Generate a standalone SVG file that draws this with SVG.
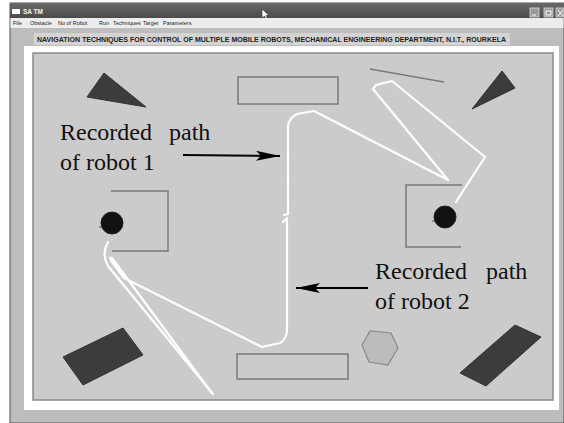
<svg xmlns="http://www.w3.org/2000/svg" width="564" height="423" viewBox="0 0 564 423">
<defs>
<style>
.obs{fill:#3c3c3c;stroke:#333;stroke-width:1}
.box{fill:none;stroke:#7a7a7a;stroke-width:1.5}
.path{fill:none;stroke:#ffffff;stroke-width:2.2;stroke-linejoin:round;stroke-linecap:round}
.robot{fill:#111;stroke:#222;stroke-width:1}
.lbl{font-family:"Liberation Serif","Times New Roman",serif;font-size:24px;fill:#111}
.menu{font-family:"Liberation Sans",Arial,sans-serif;font-size:5.5px;fill:#222}
.arrow{stroke:#000;stroke-width:2;fill:none}
</style>
<marker id="ah" markerWidth="24" markerHeight="10" refX="24" refY="5" orient="auto" markerUnits="userSpaceOnUse">
<path d="M0,0 L24,5 L0,10 L5,5 Z" fill="#000"/>
</marker>
<linearGradient id="tb" x1="0" y1="0" x2="0" y2="1">
<stop offset="0" stop-color="#6a6a6a"/>
<stop offset="1" stop-color="#4a4a4a"/>
</linearGradient>
</defs>
<rect x="0" y="0" width="564" height="423" fill="#ffffff"/>
<g id="window">
<rect x="10" y="3" width="554" height="420" fill="#bdbdbd" stroke="#555" stroke-width="1"/>
<rect x="10" y="3" width="554" height="15" fill="url(#tb)"/>
<rect x="12" y="9" width="8" height="5" fill="#fff"/>
<text x="23" y="14" font-family="Liberation Sans,Arial,sans-serif" font-size="6.5" font-weight="bold" fill="#f4f4f4">SA TM</text>
<rect x="530" y="8" width="9" height="9" fill="#9a9a9a" stroke="#ddd" stroke-width="0.8"/>
<rect x="544" y="8" width="9" height="9" fill="#9a9a9a" stroke="#ddd" stroke-width="0.8"/>
<rect x="556" y="8" width="8" height="9" fill="#9a9a9a" stroke="#ddd" stroke-width="0.8"/>
<path d="M532,15 h4 M546,11 h5 v4 h-5z M558,10 l5,6 M563,10 l-5,6" stroke="#fff" stroke-width="1" fill="none"/>
<polygon points="262,9 262,18 264.5,16 266.5,20 268,19.3 266,15.5 269,15.5" fill="#fff" stroke="#333" stroke-width="0.6"/>
<rect x="10.5" y="18" width="553" height="10" fill="#ececec"/>
<text class="menu" x="13" y="25">File</text>
<text class="menu" x="30" y="25">Obstacle</text>
<text class="menu" x="58" y="25">No of Robot</text>
<text class="menu" x="99" y="25">Run</text>
<text class="menu" x="113" y="25">Techniques</text>
<text class="menu" x="143" y="25">Target</text>
<text class="menu" x="163" y="25">Parameters</text>
<rect x="34" y="33" width="476" height="12" fill="#d4d4d4"/>
<text x="37" y="42" font-family="Liberation Sans,Arial,sans-serif" font-size="7" font-weight="bold" fill="#222" textLength="469" lengthAdjust="spacingAndGlyphs">NAVIGATION TECHNIQUES FOR CONTROL OF MULTIPLE MOBILE ROBOTS, MECHANICAL ENGINEERING DEPARTMENT, N.I.T., ROURKELA</text>
<rect x="24" y="46" width="535" height="364" fill="#ffffff"/>
<rect x="33" y="53" width="520" height="347" fill="#cbcbcb" stroke="#8a8a8a" stroke-width="1.5"/>
</g>
<g id="obstacles">
<polygon class="obs" points="104,73 87,97 146,107"/>
<rect class="box" x="238" y="77" width="100" height="27"/>
<line x1="370" y1="69" x2="444" y2="82" stroke="#7a7a7a" stroke-width="1.5"/>
<polygon class="obs" points="502,71 515,88 472,109"/>
<polyline class="box" points="111,191 168,191 168,251 112,251"/>
<polyline class="box" points="462,185 406,185 406,247 461,247"/>
<polygon class="obs" points="63,357 123,328 143,355 83,385" fill="#444"/>
<rect class="box" x="237" y="354" width="111" height="25"/>
<polygon points="362,345 370,331 391,333 398,348 388,365 369,362" fill="#bcbcbc" stroke="#8a8a8a" stroke-width="1.2"/>
<polygon class="obs" points="515,325 541,337 486,386 460,373"/>
</g>
<g id="paths">
<path class="path" d="M456,202 L485,157 L392,81 L376,85 L373,89 L448,180 L314,111 L297,114 Q289,118 288,126 L288,214 L284,215 M283,222 L287,218 L287,331 Q286,340 280,343 L262,347 L124,278 L112,262 Q108,256 112,258 L211,392"/>
<path class="path" d="M108,242 Q101,254 108,266 L213,394"/>
</g>
<g id="robots">
<circle id="robot1" class="robot" cx="112" cy="223" r="11"/>
<line x1="99" y1="227" x2="102" y2="227" stroke="#555" stroke-width="1"/>
<circle id="robot2" class="robot" cx="445" cy="217" r="11"/>
<line x1="432" y1="221" x2="435" y2="221" stroke="#555" stroke-width="1"/>
</g>
<g id="label1">
<text class="lbl" x="60" y="140">Recorded<tspan x="169">path</tspan></text>
<text class="lbl" x="60" y="170">of robot 1</text>
<line class="arrow" x1="183" y1="155" x2="280" y2="156" marker-end="url(#ah)"/>
</g>
<g id="label2">
<text class="lbl" x="375" y="279">Recorded<tspan x="486">path</tspan></text>
<text class="lbl" x="375" y="309">of robot 2</text>
<line class="arrow" x1="368" y1="288" x2="296" y2="288" marker-end="url(#ah)"/>
</g>
</svg>
